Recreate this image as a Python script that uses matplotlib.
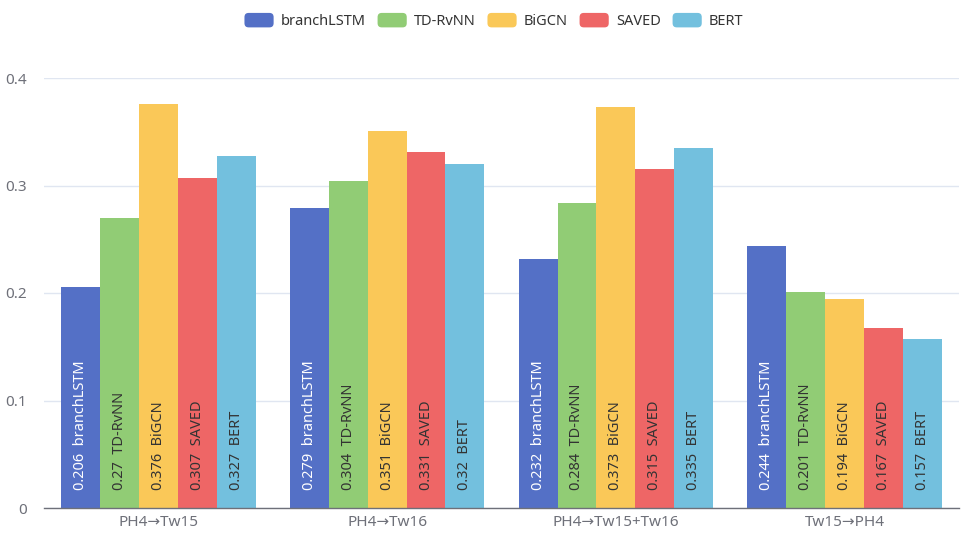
import numpy as np
import matplotlib.pyplot as plt
from matplotlib.patches import FancyBboxPatch
from matplotlib.legend_handler import HandlerPatch

plt.rcParams['font.family'] = ['Noto Sans', 'DejaVu Sans']

categories = ["PH4→Tw15", "PH4→Tw16", "PH4→Tw15+Tw16", "Tw15→PH4"]
models = ["branchLSTM", "TD-RvNN", "BiGCN", "SAVED", "BERT"]
branchLSTM = [0.206, 0.279, 0.232, 0.244]
td_rvnn = [0.27, 0.304, 0.284, 0.201]
bigcn = [0.376, 0.351, 0.373, 0.194]
saved = [0.307, 0.331, 0.315, 0.167]
bert = [0.327, 0.32, 0.335, 0.157]
series = [branchLSTM, td_rvnn, bigcn, saved, bert]

colors = ["#5470c6", "#91cc75", "#fac858", "#ee6666", "#73c0de"]
label_colors = ["#ffffff", "#333333", "#333333", "#333333", "#333333"]


class RoundBox(HandlerPatch):
    def create_artists(self, legend, orig_handle, xdescent, ydescent,
                       width, height, fontsize, trans):
        p = FancyBboxPatch((-xdescent, -ydescent), width, height,
                           boxstyle="round,pad=0,rounding_size=3",
                           facecolor=orig_handle.get_facecolor(),
                           edgecolor="none", transform=trans)
        return [p]


fig = plt.figure(figsize=(9.79, 5.43), dpi=100)
ax = fig.add_axes([44 / 979, 1 - 508 / 543, (959 - 44) / 979, (508 - 78) / 543])

x = np.arange(len(categories))
bw = 0.17
handles = []
for i, vals in enumerate(series):
    pos = x + (i - 2) * bw
    bars = ax.bar(pos, vals, width=bw, color=colors[i], linewidth=0, zorder=2)
    handles.append(bars[0])
    for px, v in zip(pos, vals):
        ax.text(px, 0.0165, f"{v}  {models[i]}", rotation=90, ha="center",
                va="bottom", fontsize=10.5, color=label_colors[i], zorder=3)

ax.set_xlim(-0.5, 3.5)
ax.set_ylim(0, 0.4)
ax.set_yticks([0, 0.1, 0.2, 0.3, 0.4])
ax.set_yticklabels(["0", "0.1", "0.2", "0.3", "0.4"])
ax.set_xticks(x)
ax.set_xticklabels(categories)
ax.tick_params(axis="both", length=0, colors="#6E7079", labelsize=11)
ax.tick_params(axis="y", pad=12)
ax.tick_params(axis="x", pad=5)
ax.grid(axis="y", color="#E0E6F1", linewidth=1, zorder=0)
for s in ["top", "right", "left"]:
    ax.spines[s].set_visible(False)
ax.spines["bottom"].set_color("#6E7079")
ax.spines["bottom"].set_linewidth(1)
ax.spines["bottom"].set_zorder(4)

fig.legend(handles, models, loc="center", bbox_to_anchor=(494 / 979, 1 - 21 / 543),
           ncol=5, frameon=False, fontsize=10.5, handlelength=2.0, handleheight=1.15,
           handletextpad=0.5, columnspacing=0.8, labelcolor="#333333",
           handler_map={h: RoundBox() for h in handles})

fig.savefig("out.png", dpi=100)
